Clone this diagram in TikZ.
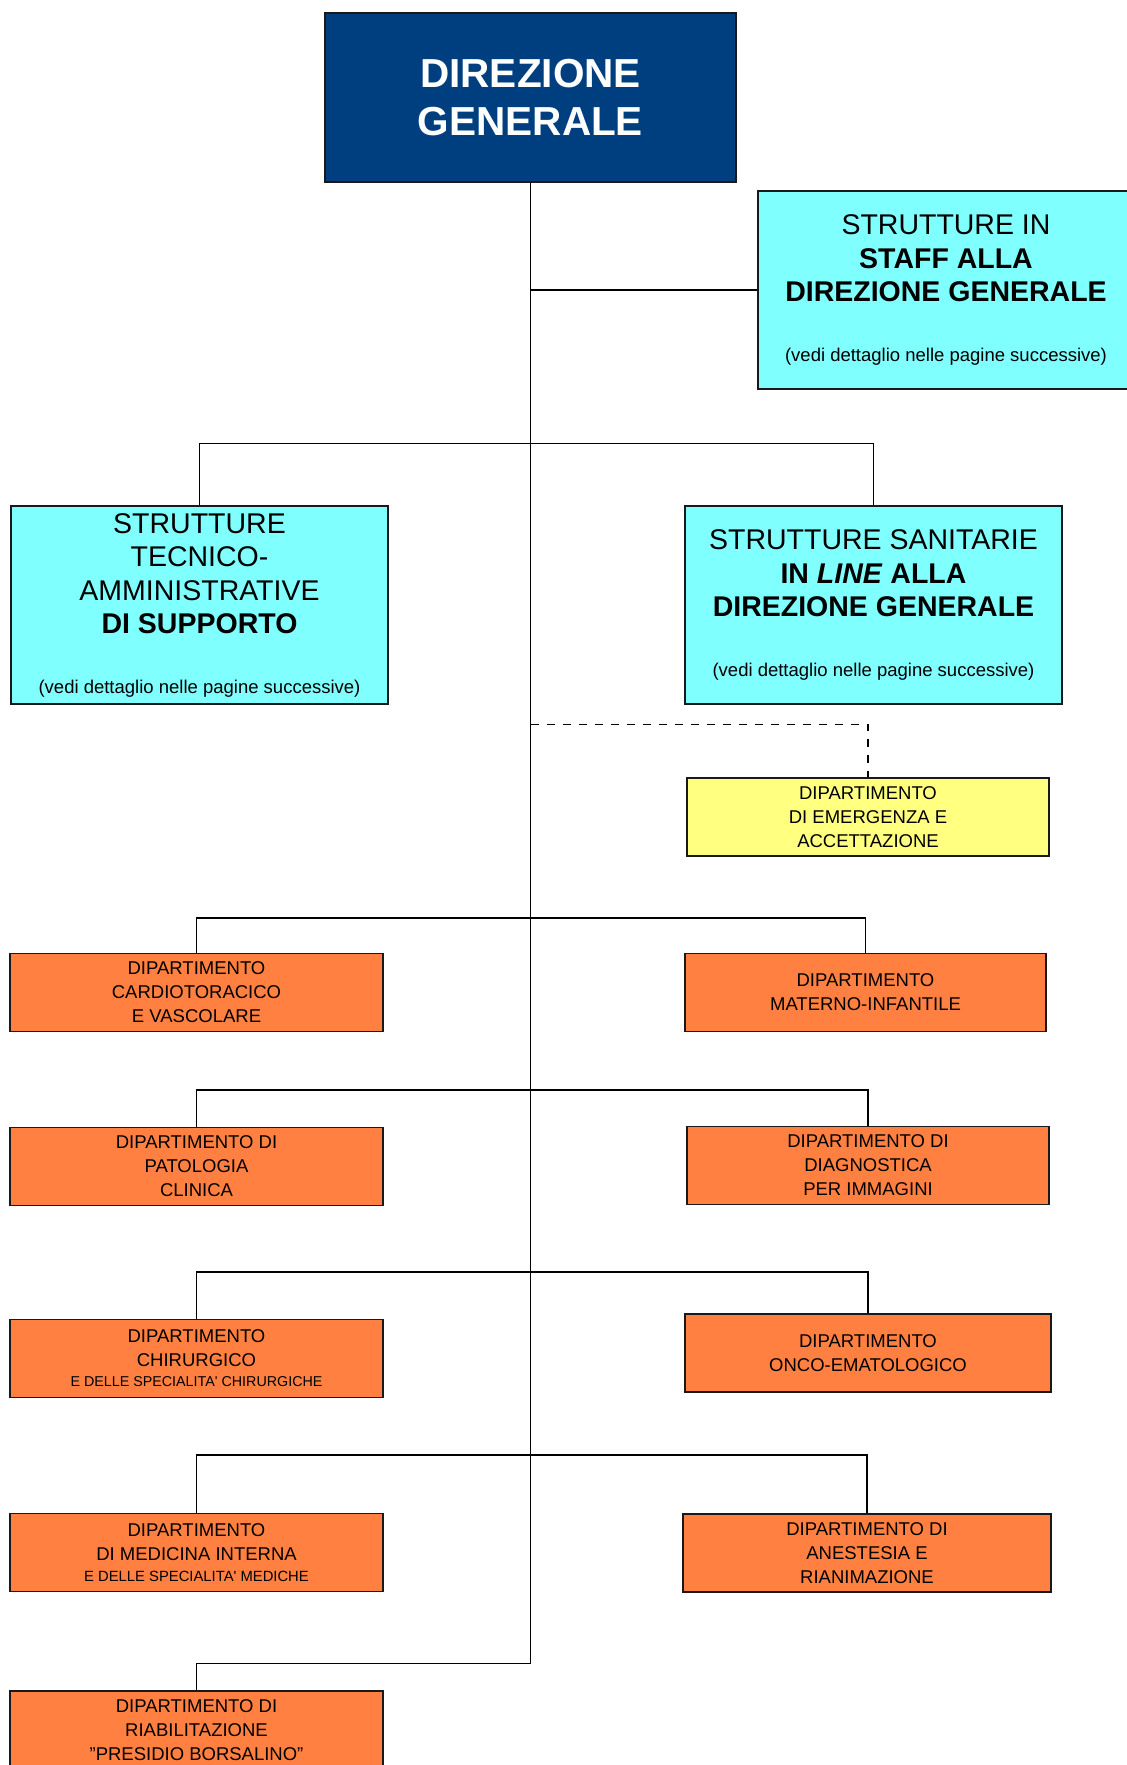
\documentclass[tikz,border=0pt]{standalone}
\usepackage{fontspec}
\setmainfont{Liberation Sans}
\usepackage{tikz}
\definecolor{dgblue}{RGB}{0,63,127}
\definecolor{azzurro}{RGB}{128,255,255}
\definecolor{giallo}{RGB}{255,255,128}
\definecolor{arancio}{RGB}{255,128,64}
\tikzstyle{unita}=[rectangle, draw=black!90, line width=1.3pt, align=center, inner sep=0pt]
\tikzstyle{dirbox}=[unita, fill=dgblue, text=white, font=\fontsize{40.5}{48}\selectfont\bfseries, minimum width=411pt, minimum height=169pt]
\tikzstyle{strutbox}=[unita, fill=azzurro, font=\fontsize{28.5}{33.5}\selectfont, minimum width=377pt, minimum height=198pt]
\tikzstyle{dipbox}=[unita, fill=arancio, font=\fontsize{18.5}{24}\selectfont, minimum width=373pt, minimum height=78pt]
\tikzstyle{emerbox}=[dipbox, fill=giallo, minimum width=362pt]
\tikzstyle{linea}=[line width=1.4pt, draw=black]
\newcommand{\vedi}{{\fontsize{18.5}{22}\selectfont (vedi dettaglio nelle pagine successive)}}
\newcommand{\spec}[2][14.3]{{\fontsize{#1}{16}\selectfont #2}}

\begin{document}
\begin{tikzpicture}[x=1pt, y=-1pt]
    \useasboundingbox (0,0) rectangle (1127,1765);

    \node[dirbox] (dg) at (530.5,97.5) {DIREZIONE\\GENERALE};
    \node[strutbox, minimum width=376pt] (staff) at (946,290) {STRUTTURE IN\\\textbf{STAFF ALLA}\\\textbf{DIREZIONE GENERALE}\\[26pt]\vedi};
    \node[strutbox] (tecamm) at (199.5,605) {STRUTTURE\\TECNICO-\\AMMINISTRATIVE\\\textbf{DI SUPPORTO}\\[26pt]\vedi};
    \node[strutbox] (sanit) at (873.5,605) {STRUTTURE SANITARIE\\\textbf{IN \textit{LINE} ALLA}\\\textbf{DIREZIONE GENERALE}\\[26pt]\vedi};
    \node[emerbox] (dea) at (868,817) {DIPARTIMENTO\\DI EMERGENZA E\\ACCETTAZIONE};

    \node[dipbox] (cardio) at (196.5,992.5) {DIPARTIMENTO\\CARDIOTORACICO\\E VASCOLARE};
    \node[dipbox, minimum width=361pt] (materno) at (865.5,992.5) {DIPARTIMENTO\\MATERNO-INFANTILE};
    \node[dipbox] (patol) at (196.5,1166.5) {DIPARTIMENTO DI\\PATOLOGIA\\CLINICA};
    \node[dipbox, minimum width=362pt] (diagn) at (868,1165.5) {DIPARTIMENTO DI\\DIAGNOSTICA\\PER IMMAGINI};
    \node[dipbox] (chir) at (196.5,1358.5) {DIPARTIMENTO\\CHIRURGICO\\[-4pt]\spec{E DELLE SPECIALITA\textquotesingle\ CHIRURGICHE}};
    \node[dipbox, minimum width=366pt] (onco) at (868,1353) {DIPARTIMENTO\\ONCO-EMATOLOGICO};
    \node[dipbox] (medic) at (196.5,1552.5) {DIPARTIMENTO\\DI MEDICINA INTERNA\\[-3pt]\spec[14.8]{E DELLE SPECIALITA\textquotesingle\ MEDICHE}};
    \node[dipbox, minimum width=368pt] (anest) at (867,1553) {DIPARTIMENTO DI\\ANESTESIA E\\RIANIMAZIONE};
    \node[dipbox] (riab) at (196.5,1730) {DIPARTIMENTO DI\\RIABILITAZIONE\\"PRESIDIO BORSALINO"};

    \draw[linea] (riab.north) -- ++(0,-27) -| (dg.south);
    \draw[linea] (staff.west) -- (staff.west -| dg.south);
    \draw[linea] (tecamm.north) -- ++(0,-62) -| (sanit.north);
    \draw[linea, dash pattern=on 8pt off 8pt] (dg.south |- sanit.south) ++(0,20) -| (dea.north);
    \draw[linea] (cardio.north) -- ++(0,-35) -| (materno.north);
    \draw[linea] (patol.north) -- ++(0,-37) -| (diagn.north);
    \draw[linea] (chir.north) -- ++(0,-47) -| (onco.north);
    \draw[linea] (medic.north) -- ++(0,-58) -| (anest.north);
  \end{tikzpicture}
\end{document}
